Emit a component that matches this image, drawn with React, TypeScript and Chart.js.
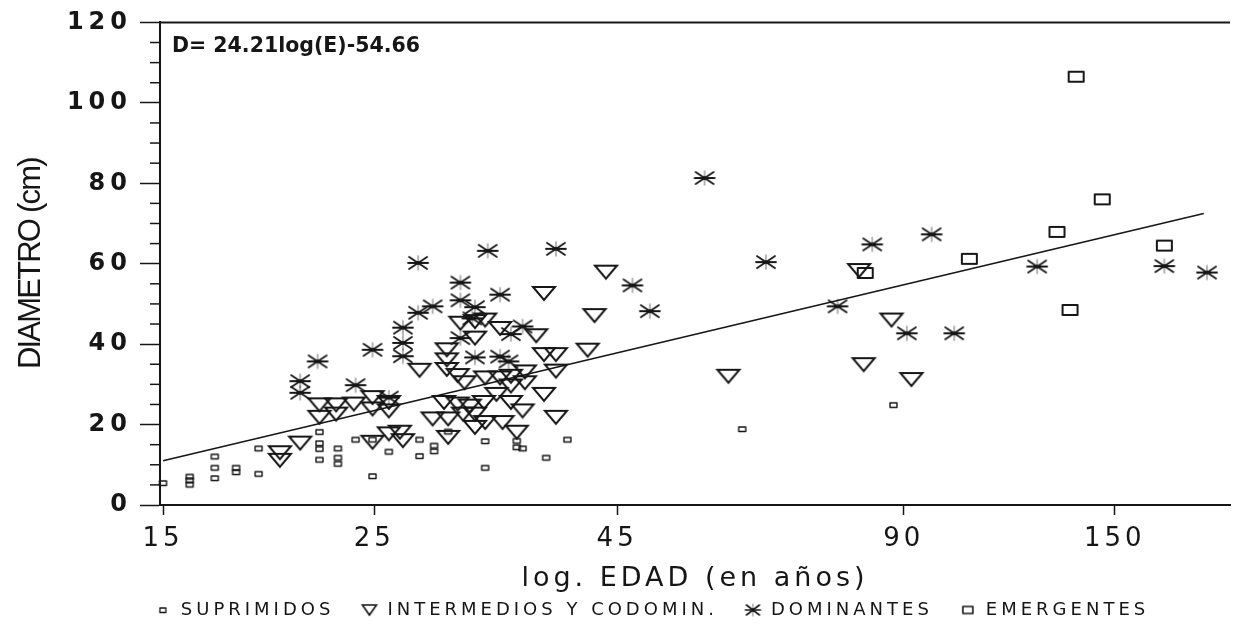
import React, { useEffect, useRef } from 'react';
import { Chart, registerables } from 'chart.js';

Chart.register(...registerables);

// ---- data ----
const SUP_EDAD = [15.0, 16.0, 16.0, 16.0, 17.0, 17.0, 17.0, 17.9, 17.9, 18.9, 18.9, 21.9, 21.9, 21.9, 21.9, 22.9, 22.9, 22.9, 23.9, 24.9, 24.9, 25.9, 27.9, 27.9, 28.9, 28.9, 29.9, 32.7, 32.7, 35.3, 35.3, 35.8, 37.9, 39.9, 60.9, 87.8];
const SUP_DIAM = [5.5, 7.1, 6.2, 5.1, 12.1, 9.3, 6.7, 9.3, 8.2, 14.1, 7.8, 18.2, 15.4, 14.0, 11.3, 14.1, 11.8, 10.3, 16.3, 16.3, 7.2, 13.3, 16.3, 12.2, 14.8, 13.4, 18.3, 15.9, 9.3, 16.0, 14.4, 14.1, 11.8, 16.3, 18.9, 24.9];

const INT_EDAD = [19.9, 19.9, 20.9, 21.9, 21.9, 22.8, 22.8, 23.8, 24.9, 24.9, 24.9, 25.9, 25.9, 25.9, 26.6, 26.8, 27.9, 28.8, 29.6, 29.8, 29.8, 29.8, 29.9, 29.9, 30.6, 30.6, 30.8, 31.0, 31.1, 31.5, 31.9, 31.9, 31.9, 31.9, 32.6, 32.7, 32.7, 32.7, 33.6, 33.9, 33.9, 34.1, 34.8, 34.8, 34.8, 35.3, 35.8, 36.0, 36.0, 37.0, 37.7, 37.7, 37.7, 38.8, 38.8, 38.8, 41.9, 42.6, 43.8, 58.9, 80.8, 81.7, 87.4, 91.7];
const INT_DIAM = [13.0, 11.1, 15.4, 24.9, 21.8, 24.9, 22.6, 25.1, 26.7, 23.9, 15.6, 25.5, 23.4, 17.7, 18.1, 16.0, 33.5, 21.4, 25.5, 38.6, 36.1, 33.7, 21.4, 16.8, 32.2, 25.1, 45.2, 22.6, 30.4, 24.6, 45.6, 41.5, 22.6, 19.3, 25.5, 46.0, 31.6, 20.5, 27.5, 31.6, 43.9, 20.5, 32.0, 29.6, 25.5, 18.1, 23.4, 33.1, 30.4, 42.1, 52.6, 37.4, 27.5, 37.4, 33.3, 21.8, 38.5, 47.1, 57.9, 32.0, 58.3, 34.9, 46.0, 31.2];

const DOM_EDAD = [20.9, 20.9, 21.8, 23.9, 24.9, 25.9, 26.8, 26.8, 26.8, 27.8, 27.8, 28.8, 30.8, 30.8, 30.8, 31.7, 31.9, 31.9, 32.9, 33.9, 33.9, 34.6, 34.8, 35.8, 38.8, 46.7, 48.7, 55.6, 64.5, 76.7, 83.4, 90.7, 96.3, 101.7, 124.3, 169.1, 187.5];
const DOM_DIAM = [30.8, 27.9, 35.7, 29.8, 38.6, 26.7, 44.1, 40.3, 37.0, 60.2, 47.8, 49.4, 55.3, 50.9, 41.5, 46.4, 49.2, 36.7, 63.2, 52.3, 36.9, 35.7, 42.5, 44.4, 63.7, 54.6, 48.2, 81.3, 60.4, 49.4, 64.8, 42.7, 67.3, 42.7, 59.3, 59.4, 57.8];

const EMER_EDAD = [82.0, 105.5, 130.4, 134.6, 136.6, 145.5, 169.1];
const EMER_DIAM = [57.7, 61.2, 67.9, 48.5, 106.5, 76.0, 64.5];

const REG_EDAD = [15, 186];
const REG_DIAM = [11.0, 72.5];

const X_TICKS = [15, 25, 45, 90, 150];
const Y_MINOR_TICKS = [5, 10, 15, 25, 30, 35, 45, 50, 55, 65, 70, 75, 85, 90, 95, 105, 110, 115];
const LEGEND_LABELS = ['SUPRIMIDOS', 'INTERMEDIOS Y CODOMIN.', 'DOMINANTES', 'EMERGENTES'];
const X_TITLE = 'log. EDAD (en años)';
const Y_TITLE = 'DIAMETRO (cm)';
const EQUATION = 'D= 24.21log(E)-54.66';

const INK = '#161616';
const FONT = "'DejaVu Sans', 'Liberation Sans', sans-serif";
const NARROW = "'Liberation Sans Narrow', 'Liberation Sans', sans-serif";
const LEGEND_SPACING = '4px';

const toPoints = (xs: number[], ys: number[]) => xs.map((x, i) => ({ x, y: ys[i] }));

function makeIcon(w: number, h: number, draw: (g: CanvasRenderingContext2D) => void) {
  const c = document.createElement('canvas');
  c.width = w;
  c.height = h;
  const g = c.getContext('2d') as CanvasRenderingContext2D;
  g.strokeStyle = INK;
  g.fillStyle = INK;
  g.lineJoin = 'round';
  draw(g);
  return c;
}

function boxIcon(w: number, h: number, lw: number) {
  const pad = Math.ceil(lw) + 1;
  return makeIcon(w + pad * 2, h + pad * 2, (g) => {
    g.lineWidth = lw;
    g.strokeRect(pad, pad, w, h);
  });
}

function triIcon(w: number, h: number, lw: number) {
  const pad = Math.ceil(lw) + 1;
  return makeIcon(w + pad * 2, h + pad * 2, (g) => {
    g.lineWidth = lw;
    g.lineJoin = 'miter';
    g.beginPath();
    g.moveTo(pad, pad);
    g.lineTo(pad + w, pad);
    g.lineTo(pad + w / 2, pad + h);
    g.closePath();
    g.stroke();
  });
}

function starIcon(w: number, h: number, lw: number) {
  const pad = 2;
  return makeIcon(w + pad * 2, h + pad * 2, (g) => {
    const cx = pad + w / 2;
    const cy = pad + h / 2;
    const line = (x1: number, y1: number, x2: number, y2: number) => {
      g.beginPath();
      g.moveTo(x1, y1);
      g.lineTo(x2, y2);
      g.stroke();
    };
    g.lineWidth = lw;
    g.lineCap = 'round';
    line(pad, cy, pad + w, cy);
    line(pad + 1, pad + 1, pad + w - 1, pad + h - 1);
    line(pad + 1, pad + h - 1, pad + w - 1, pad + 1);
    g.globalAlpha = 0.5;
    g.lineWidth = lw * 0.7;
    line(cx, pad, cx, pad + h);
    g.globalAlpha = 1;
    g.beginPath();
    g.arc(cx, cy, lw * 1.1, 0, Math.PI * 2);
    g.fill();
  });
}

const framePlugin = {
  id: 'frameAndEquation',
  beforeLayout(chart: any) {
    chart.ctx.letterSpacing = LEGEND_SPACING;
  },
  beforeDraw(chart: any) {
    chart.ctx.letterSpacing = LEGEND_SPACING;
  },
  afterDraw(chart: any) {
    const { ctx, chartArea: a, scales } = chart;
    const y = scales.y;
    ctx.save();
    ctx.letterSpacing = '0px';
    ctx.strokeStyle = INK;
    ctx.lineWidth = 2;
    ctx.beginPath();
    ctx.moveTo(a.left, a.top);
    ctx.lineTo(a.right, a.top);
    ctx.stroke();
    ctx.lineWidth = 1.5;
    for (const v of Y_MINOR_TICKS) {
      const py = y.getPixelForValue(v);
      ctx.beginPath();
      ctx.moveTo(a.left - 10, py);
      ctx.lineTo(a.left, py);
      ctx.stroke();
    }
    ctx.font = "bold 20.5px 'DejaVu Sans'";
    ctx.fillStyle = INK;
    ctx.textAlign = 'left';
    ctx.textBaseline = 'middle';
    ctx.fillText(EQUATION, a.left + 12, a.top + 24);
    ctx.restore();
  },
};

export default function App() {
  const ref = useRef<HTMLCanvasElement | null>(null);

  useEffect(() => {
    const canvas = ref.current;
    if (!canvas) return;

    const icons = [boxIcon(7, 4.5, 1.4), triIcon(22, 13, 2), starIcon(20, 14, 1.8), boxIcon(15, 10, 2)];
    const legendIcons = [boxIcon(6, 4.5, 1.3), triIcon(14, 10, 1.6), starIcon(15, 12, 1.6), boxIcon(10, 7, 1.6)];

    const scatterSet = (i: number, xs: number[], ys: number[]) => ({
      label: LEGEND_LABELS[i],
      data: toPoints(xs, ys),
      pointStyle: icons[i],
      pointRadius: 6,
      borderColor: INK,
      backgroundColor: INK,
      clip: false,
    });

    const chart = new Chart(canvas, {
      type: 'scatter',
      data: {
        datasets: [
          scatterSet(0, SUP_EDAD, SUP_DIAM),
          scatterSet(1, INT_EDAD, INT_DIAM),
          scatterSet(2, DOM_EDAD, DOM_DIAM),
          scatterSet(3, EMER_EDAD, EMER_DIAM),
          {
            type: 'line',
            label: 'ajuste',
            data: toPoints(REG_EDAD, REG_DIAM),
            borderColor: INK,
            borderWidth: 1.6,
            pointRadius: 0,
            showLine: true,
            fill: false,
            clip: false,
          } as any,
        ],
      },
      options: {
        responsive: false,
        animation: false,
        events: [],
        layout: { padding: { left: 66, top: 18, right: 0, bottom: -3 } },
        scales: {
          x: {
            type: 'logarithmic',
            position: 'bottom',
            min: 14.89,
            max: 198.2,
            afterBuildTicks: (s: any) => {
              s.ticks = X_TICKS.map((v) => ({ value: v }));
            },
            afterFit: (s: any) => {
              s.height = 70;
            },
            grid: { drawOnChartArea: false, drawTicks: true, tickLength: 10, tickColor: INK, tickWidth: 1.5, z: -1 },
            border: { display: true, color: INK, width: 2 },
            ticks: {
              autoSkip: false,
              maxRotation: 0,
              minRotation: 0,
              padding: 9,
              font: { family: FONT, size: 26 },
              color: (c: any) => {
                c.chart.ctx.letterSpacing = '4px';
                return INK;
              },
              callback: (v: any) => String(v),
            },
            title: {
              display: true,
              text: X_TITLE,
              font: { family: FONT, size: 27 },
              color: (c: any) => {
                c.chart.ctx.letterSpacing = LEGEND_SPACING;
                return INK;
              },
              padding: { top: 0, bottom: -20 },
            },
          } as any,
          y: {
            type: 'linear',
            position: 'left',
            min: 0,
            max: 120,
            afterFit: (s: any) => {
              s.width = 94;
            },
            grid: { drawOnChartArea: false, drawTicks: true, tickLength: 20, tickColor: INK, tickWidth: 1.5, z: -2 },
            border: { display: true, color: INK, width: 2 },
            ticks: {
              stepSize: 20,
              padding: 8,
              font: { family: FONT, size: 24, weight: 'bold' },
              color: (c: any) => {
                c.chart.ctx.letterSpacing = '5px';
                return INK;
              },
            },
            title: {
              display: true,
              text: Y_TITLE,
              font: { family: NARROW, size: 31 },
              color: (c: any) => {
                c.chart.ctx.letterSpacing = '-1.8px';
                return INK;
              },
              padding: { top: -53, bottom: 0 },
            },
          } as any,
        },
        plugins: {
          legend: {
            position: 'bottom',
            labels: {
              usePointStyle: true,
              padding: 26,
              color: INK,
              font: { family: FONT, size: 18 },
              generateLabels: (ch: any) =>
                (Chart as any).defaults.plugins.legend.labels
                  .generateLabels(ch)
                  .filter((l: any) => l.datasetIndex < 4)
                  .map((l: any) => ({ ...l, pointStyle: legendIcons[l.datasetIndex], fontColor: INK })),
            },
          },
          tooltip: { enabled: false },
        },
      },
      plugins: [framePlugin],
    } as any);

    return () => chart.destroy();
  }, []);

  return (
    <div style={{ position: 'fixed', left: 0, top: 0, width: 1237, height: 626, background: '#fff' }}>
      <canvas ref={ref} width={1237} height={626} style={{ display: 'block' }} />
    </div>
  );
}
